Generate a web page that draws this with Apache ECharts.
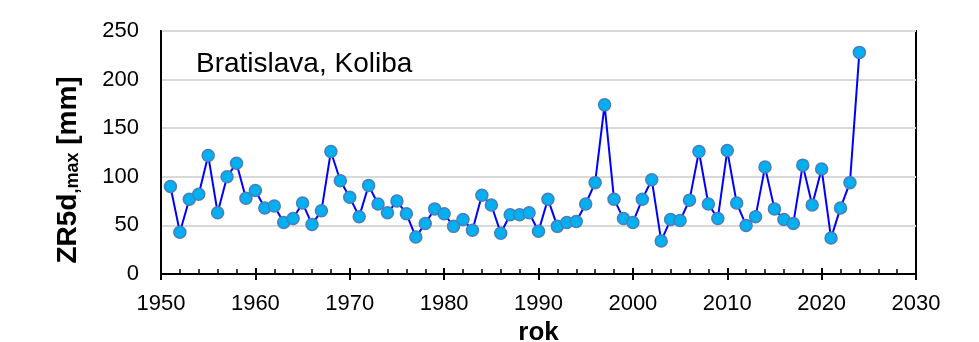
<!DOCTYPE html>
<html>
<head>
<meta charset="utf-8">
<script src="https://cdn.jsdelivr.net/npm/echarts@6/dist/echarts.min.js"></script>
<style>
  html, body { margin: 0; padding: 0; background: #fff; }
  #chart { width: 979px; height: 342px; }
</style>
</head>
<body>
<div id="chart"></div>
<script>
// roky merania
const years = [
  1951, 1952, 1953, 1954, 1955, 1956, 1957, 1958, 1959, 1960,
  1961, 1962, 1963, 1964, 1965, 1966, 1967, 1968, 1969, 1970,
  1971, 1972, 1973, 1974, 1975, 1976, 1977, 1978, 1979, 1980,
  1981, 1982, 1983, 1984, 1985, 1986, 1987, 1988, 1989, 1990,
  1991, 1992, 1993, 1994, 1995, 1996, 1997, 1998, 1999, 2000,
  2001, 2002, 2003, 2004, 2005, 2006, 2007, 2008, 2009, 2010,
  2011, 2012, 2013, 2014, 2015, 2016, 2017, 2018, 2019, 2020,
  2021, 2022, 2023, 2024
];
// ZR5d,max [mm]
const zr5dMax = [
  90, 43, 77, 82, 122, 63, 100, 114, 78, 86,
  68, 70, 53, 57, 73, 51, 65, 126, 96, 79,
  59, 91, 72, 63, 75, 62, 38, 52, 67, 62,
  49, 56, 45, 81, 71, 42, 61, 61, 63, 44,
  77, 49, 53, 54, 72, 94, 174, 77, 57, 53,
  77, 97, 34, 56, 55, 76, 126, 72, 57, 127,
  73, 50, 59, 110, 67, 56, 52, 112, 71, 108,
  37, 68, 94, 228
];
const xTicks = [1950, 1960, 1970, 1980, 1990, 2000, 2010, 2020, 2030];
const yTicks = [0, 50, 100, 150, 200, 250];

const font = '"Liberation Sans", Arial, sans-serif';
const chart = echarts.init(document.getElementById('chart'));

option = {
  animation: false,
  backgroundColor: '#fff',
  textStyle: { fontFamily: font },
  grid: {
    left: 161, right: 63, top: 31, bottom: 68,
    outerBoundsMode: 'none',
    containLabel: false,
    show: true, borderColor: '#000', borderWidth: 2
  },
  graphic: [
    {
      type: 'text',
      left: 196, top: 50,
      style: { text: 'Bratislava, Koliba', font: '28px ' + font, fill: '#000' }
    },
    {
      type: 'text',
      x: 68, y: 170,
      rotation: Math.PI / 2,
      style: {
        text: '{b|ZR5d}{s|,max}{b| [mm]}',
        align: 'center',
        verticalAlign: 'middle',
        rich: {
          b: { fontFamily: font, fontWeight: 'bold', fontSize: 28, fill: '#000' },
          s: { fontFamily: font, fontWeight: 'bold', fontSize: 18, fill: '#000', padding: [11, 0, 0, 0] }
        }
      }
    }
  ],
  xAxis: [
    {
      type: 'value',
      min: xTicks[0], max: xTicks[xTicks.length - 1], interval: 10,
      name: 'rok',
      nameLocation: 'middle',
      nameGap: 42,
      nameTextStyle: { fontSize: 26, fontWeight: 'bold', color: '#000', fontFamily: font },
      axisLine: { lineStyle: { color: '#000', width: 2 } },
      axisTick: { show: true, inside: true, length: 6, lineStyle: { color: '#000', width: 2 } },
      minorTick: { show: true, splitNumber: 5, length: 5, lineStyle: { color: '#000', width: 1.5 } },
      axisLabel: { fontSize: 22, color: '#000', margin: 19, fontFamily: font, formatter: v => String(v) },
      splitLine: { show: false }
    },
    {
      type: 'value',
      position: 'bottom',
      min: xTicks[0], max: xTicks[xTicks.length - 1], interval: 10,
      axisLine: { show: false },
      axisTick: { show: true, inside: false, length: 6, lineStyle: { color: '#000', width: 2 } },
      axisLabel: { show: false },
      splitLine: { show: false }
    }
  ],
  yAxis: {
    type: 'value',
    min: yTicks[0], max: yTicks[yTicks.length - 1], interval: 50,
    axisLine: { show: true, lineStyle: { color: '#000', width: 2 } },
    axisTick: { show: false },
    axisLabel: { fontSize: 22, color: '#000', margin: 22, fontFamily: font },
    splitLine: { show: true, lineStyle: { color: '#d9d9d9', width: 2 } }
  },
  series: [
    {
      type: 'line',
      xAxisIndex: 0,
      data: years.map((y, i) => [y, zr5dMax[i]]),
      symbol: 'circle',
      symbolSize: 12,
      lineStyle: { color: '#0000ff', width: 2 },
      itemStyle: { color: '#00b0f0', borderColor: '#4a7ebb', borderWidth: 1.5 },
      z: 3
    }
  ]
};
chart.setOption(option);
window.addEventListener('resize', function () { chart.resize(); });
</script>
</body>
</html>
